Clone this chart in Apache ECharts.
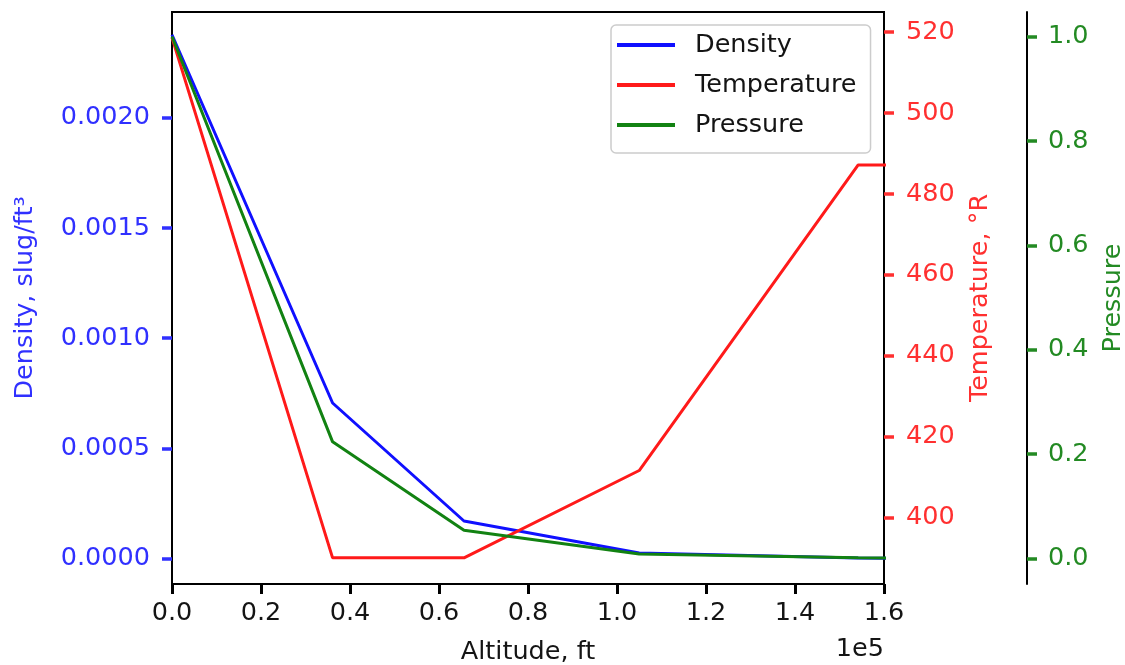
<!DOCTYPE html>
<html>
<head>
<meta charset="utf-8">
<script src="https://cdn.jsdelivr.net/npm/echarts@6/dist/echarts.min.js"></script>
<style>
html,body{margin:0;padding:0;background:#fff;}
#chart{width:1125px;height:665px;}
</style>
</head>
<body>
<div id="chart"></div>
<script>
// Altitude in ft (axis shown in units of 1e5)
var altitude = [0, 36089, 65617, 104987, 154199, 167323];
// Density, slug/ft^3
var density = [0.0023769, 0.00070612, 0.00017083, 0.00002566, 0.00000277, 0.00000167];
// Temperature, degrees Rankine
var temperature = [518.67, 389.97, 389.97, 411.57, 487.17, 487.17];
// Pressure ratio p/p0
var pressure = [1.0, 0.22336, 0.054033, 0.0085666, 0.0010945, 0.00066063];

var xTicks = [0, 20000, 40000, 60000, 80000, 100000, 120000, 140000, 160000];
var densityTicks = [0, 0.0005, 0.0010, 0.0015, 0.0020];
var temperatureTicks = [400, 420, 440, 460, 480, 500, 520];
var pressureTicks = [0, 0.2, 0.4, 0.6, 0.8, 1.0];

function pairs(xs, ys) {
  return xs.map(function (x, i) { return [x, ys[i]]; });
}

var FONT = 'DejaVu Sans';
var FS = 25.5;
var BLUE = '#1010ff', RED = '#ff1a1a', GREEN = '#128212';
var BLUE_T = '#3030ff', RED_T = '#ff3030', GREEN_T = '#238a23';
var TXT = '#141414';

var chart = echarts.init(document.getElementById('chart'), null, {renderer: 'canvas'});
chart.setOption({
  animation: false,
  backgroundColor: '#ffffff',
  textStyle: {fontFamily: FONT},
  grid: {left: 172, right: 241, top: 12, bottom: 81, outerBoundsMode: 'none', containLabel: false,
    show: true, borderColor: '#000', borderWidth: 2, backgroundColor: 'transparent'},
  legend: {
    orient: 'vertical',
    left: 611, top: 25,
    padding: [7, 14, 15, 6],
    itemGap: 14,
    itemWidth: 58, itemHeight: 4,
    icon: 'rect',
    borderColor: '#cccccc', borderWidth: 1.5, borderRadius: 5,
    backgroundColor: 'rgba(255,255,255,0.85)',
    textStyle: {fontFamily: FONT, fontSize: FS, lineHeight: 25.5, color: TXT, padding: [0, 0, 0, 15]},
    data: ['Density', 'Temperature', 'Pressure']
  },
  xAxis: {
    type: 'value', min: 0, max: 160000, interval: 20000,
    name: 'Altitude, ft', nameLocation: 'middle', nameGap: 55,
    nameTextStyle: {fontFamily: FONT, fontSize: FS, color: TXT},
    axisLine: {show: true, onZero: false, lineStyle: {color: '#000', width: 2}},
    axisTick: {show: true, length: 10, lineStyle: {color: '#000', width: 3}},
    axisLabel: {fontFamily: FONT, fontSize: FS, color: TXT, margin: 16,
      formatter: function (v) { return (v / 1e5).toFixed(1); }},
    splitLine: {show: false}
  },
  yAxis: [
    {
      type: 'value', position: 'left', min: -0.000115, max: 0.00248,
      name: 'Density, slug/ft³', nameLocation: 'middle', nameRotate: 90, nameGap: 134,
      nameTextStyle: {fontFamily: FONT, fontSize: FS, color: BLUE_T},
      axisLine: {show: true, onZero: false, lineStyle: {color: '#000', width: 2}},
      axisTick: {show: true, length: 10, customValues: densityTicks, lineStyle: {color: BLUE_T, width: 3.5}},
      axisLabel: {fontFamily: FONT, fontSize: FS, color: BLUE_T, margin: 22, customValues: densityTicks,
        formatter: function (v) { return v.toFixed(4); }},
      splitLine: {show: false}
    },
    {
      type: 'value', position: 'right', min: 383.5, max: 525.0,
      name: 'Temperature, °R', nameLocation: 'middle', nameRotate: 90, nameGap: 83,
      nameTextStyle: {fontFamily: FONT, fontSize: FS, color: RED_T},
      axisLine: {show: true, onZero: false, lineStyle: {color: '#000', width: 2}},
      axisTick: {show: true, length: 10, customValues: temperatureTicks, lineStyle: {color: RED_T, width: 3.5}},
      axisLabel: {fontFamily: FONT, fontSize: FS, color: RED_T, margin: 22, customValues: temperatureTicks,
        formatter: function (v) { return String(Math.round(v)); }},
      splitLine: {show: false}
    },
    {
      type: 'value', position: 'right', offset: 143, min: -0.049, max: 1.047,
      name: 'Pressure', nameLocation: 'middle', nameRotate: 90, nameGap: 73,
      nameTextStyle: {fontFamily: FONT, fontSize: FS, color: GREEN_T},
      axisLine: {show: true, onZero: false, lineStyle: {color: '#000', width: 2}},
      axisTick: {show: true, length: 10, customValues: pressureTicks, lineStyle: {color: GREEN_T, width: 3.5}},
      axisLabel: {fontFamily: FONT, fontSize: FS, color: GREEN_T, margin: 21, customValues: pressureTicks,
        formatter: function (v) { return v.toFixed(1); }},
      splitLine: {show: false}
    }
  ],
  graphic: [{
    type: 'text', right: 1125 - 884, top: 636,
    style: {text: '1e5', font: FS + 'px "DejaVu Sans"', fill: TXT, textAlign: 'right'}
  }],
  series: [
    {name: 'Density', type: 'line', yAxisIndex: 0, data: pairs(altitude, density),
      showSymbol: false, symbol: 'none', clip: true, color: BLUE, lineStyle: {color: BLUE, width: 3}},
    {name: 'Temperature', type: 'line', yAxisIndex: 1, data: pairs(altitude, temperature),
      showSymbol: false, symbol: 'none', clip: true, color: RED, lineStyle: {color: RED, width: 3}},
    {name: 'Pressure', type: 'line', yAxisIndex: 2, data: pairs(altitude, pressure),
      showSymbol: false, symbol: 'none', clip: true, color: GREEN, lineStyle: {color: GREEN, width: 3}}
  ]
});
</script>
</body>
</html>
